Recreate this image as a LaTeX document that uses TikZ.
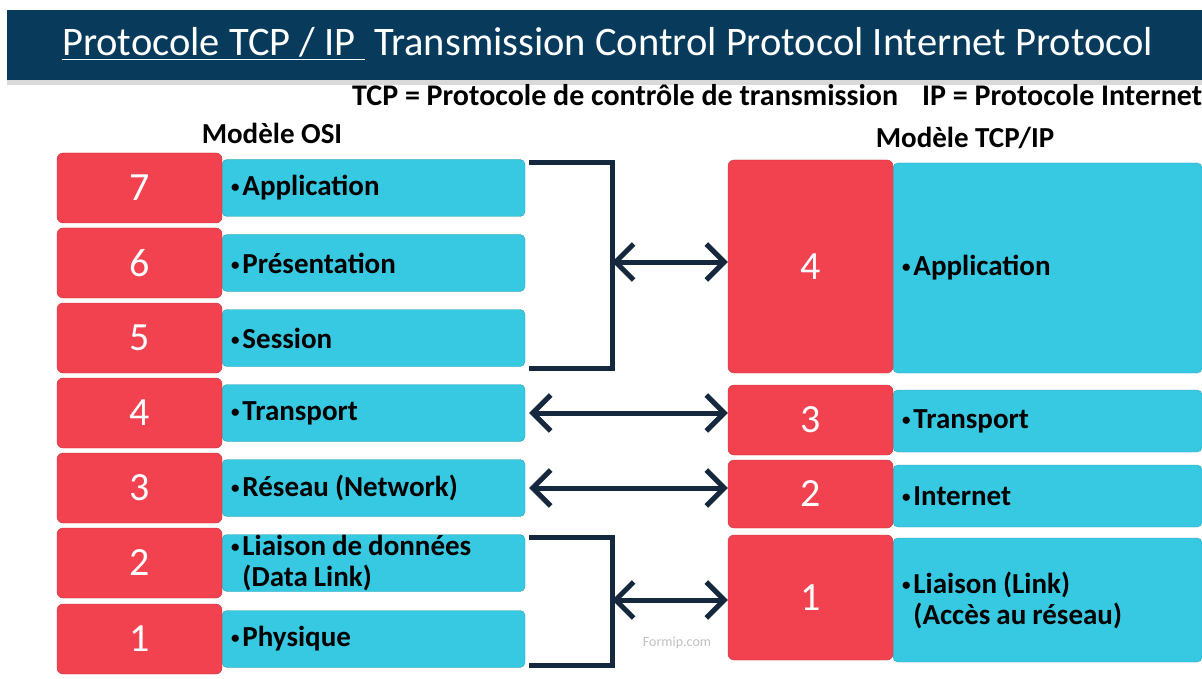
\documentclass[tikz,border=0pt]{standalone}
\usepackage{fontspec}
\setmainfont{Carlito}
\usetikzlibrary{arrows.meta}
\usetikzlibrary{calc}
\definecolor{layerred}{HTML}{F2414F}
\definecolor{layercyan}{HTML}{37C8E2}
\definecolor{linknavy}{HTML}{15283D}
\definecolor{titlenavy}{HTML}{083A5C}
\newcommand{\lbul}{\spaceskip=6pt\relax\raisebox{3pt}{\fontsize{17}{17}\selectfont\textbullet}\hspace{3pt}}

\begin{document}
\begin{tikzpicture}[x=1pt, y=-1pt,
    num box/.style={fill=layerred, draw=layerred!80!black, rounded corners=6pt, minimum width=165pt, inner sep=0pt, text=white, font=\fontsize{40}{40}\selectfont},
    layer box/.style={fill=layercyan, draw=layercyan!80!black, rounded corners=5pt, inner xsep=9pt, inner ysep=0pt, align=left, font=\bfseries\fontsize{29}{31}\selectfont},
    heading/.style={font=\bfseries\fontsize{29}{29}\selectfont},
    link arrow/.style={<->, >={Straight Barb[length=18pt,width=36pt]}, line width=5pt, draw=linknavy},
    bracket line/.style={line width=5pt, draw=linknavy},
    ]

\useasboundingbox (0,0) rectangle (1202,679);

%% title bar
\fill[gray!30] (7,78) rectangle (1202,85);
\fill[titlenavy] (7,10) rectangle (1202,80);
\node[anchor=base west, inner sep=0pt, text=white, font=\fontsize{40.5}{40.5}\selectfont] (title) at (62,56)
  {\underline{Protocole TCP / IP\ }\ Transmission Control Protocol Internet Protocol};
\node[anchor=base west, inner sep=0pt, font=\bfseries\fontsize{30}{30}\selectfont] (subtitle) at (352,106)
  {TCP = Protocole de contrôle de transmission\hspace{24pt}IP = Protocole Internet};

%% headings
\node[heading] (osi) at (272,133) {Modèle OSI};
\node[heading] (tcpip) at (965,138) {Modèle TCP/IP};

%% OSI layers
\node[layer box, minimum height=57pt, text width=285pt] (s7) at (373.5,188) {\lbul Application};
\node[layer box, minimum height=57pt, text width=285pt] (s6) at (373.5,263) {\lbul Présentation};
\node[layer box, minimum height=57pt, text width=285pt] (s5) at (373.5,338) {\lbul Session};
\node[layer box, minimum height=57pt, text width=285pt] (s4) at (373.5,413) {\lbul Transport};
\node[layer box, minimum height=57pt, text width=285pt] (s3) at (373.5,488) {\lbul Réseau (Network)};
\node[layer box, minimum height=57pt, text width=285pt] (s2) at (373.5,563) {\lbul Liaison de données\\\phantom{\lbul}(Data Link)};
\node[layer box, minimum height=57pt, text width=285pt] (s1) at (373.5,639) {\lbul Physique};

\node[num box, minimum height=70pt] (n7) at (139.5,188) {7};
\node[num box, minimum height=70pt] (n6) at (139.5,263) {6};
\node[num box, minimum height=70pt] (n5) at (139.5,338) {5};
\node[num box, minimum height=70pt] (n4) at (139.5,413) {4};
\node[num box, minimum height=70pt] (n3) at (139.5,488) {3};
\node[num box, minimum height=70pt] (n2) at (139.5,563) {2};
\node[num box, minimum height=70pt] (n1) at (139.5,639) {1};

%% TCP/IP layers
\node[layer box, minimum height=210pt, text width=291pt] (ts4) at (1047.5,268) {\lbul Application};
\node[layer box, minimum height=62pt, text width=291pt] (ts3) at (1047.5,421) {\lbul Transport};
\node[layer box, minimum height=62pt, text width=291pt] (ts2) at (1047.5,496) {\lbul Internet};
\node[layer box, minimum height=124pt, text width=291pt] (ts1) at (1047.5,600) {\lbul Liaison (Link)\\\phantom{\lbul}(Accès au réseau)};

\node[num box, minimum height=213pt] (tn4) at (810.5,266.5) {4};
\node[num box, minimum height=70pt] (tn3) at (810.5,420) {3};
\node[num box, minimum height=68pt] (tn2) at (810.5,494) {2};
\node[num box, minimum height=125pt] (tn1) at (810.5,597.5) {1};

%% brackets
\coordinate (ua) at (612,163); \coordinate (ub) at (612,368); \coordinate (um) at (612,262);
\coordinate (la) at (612,537); \coordinate (lb) at (612,665); \coordinate (lm) at (612,600);

\draw[bracket line] ([xshift=4pt]s7.north east |- ua) -- (ua) -- (ub) -- ([xshift=4pt]s5.south east |- ub);
\draw[bracket line] ([xshift=4pt]s2.north east |- la) -- (la) -- (lb) -- ([xshift=4pt]s1.south east |- lb);

%% arrows
\draw[link arrow] (um) -- (um -| tn4.west);
\draw[link arrow, shorten <=4pt] (s4.east) -- (s4.east -| tn3.west);
\draw[link arrow, shorten <=4pt] (s3.east) -- (s3.east -| tn2.west);
\draw[link arrow] (lm) -- (lm -| tn1.west);

\node[text=gray!50, font=\fontsize{14}{14}\selectfont] (src) at (677,643) {Formip.com};

\end{tikzpicture}
\end{document}
